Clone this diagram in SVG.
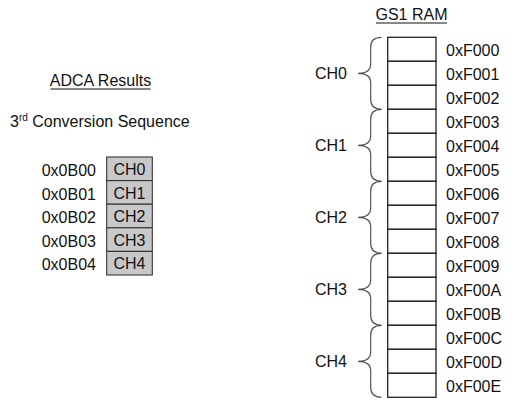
<svg xmlns="http://www.w3.org/2000/svg" width="516" height="412" viewBox="0 0 516 412">
<style>
text{font-family:"Liberation Sans",Arial,sans-serif;font-size:16px;fill:#111}
.ram{fill:#fff;stroke:#222;stroke-width:1.3}
.adc{fill:#c8c8c8;stroke:#333;stroke-width:1.1}
.br{fill:none;stroke:#555;stroke-width:1.2}
.ul{stroke:#111;stroke-width:1.2}
.c{text-anchor:middle}
</style>
<rect width="516" height="412" fill="#fff"/>
<g id="title-adca">
<text x="100.5" y="86" class="c">ADCA Results</text>
<line class="ul" x1="50.5" y1="89" x2="150.5" y2="89"/>
</g>
<g id="title-seq">
<text x="10" y="127">3<tspan font-size="10" dy="-6">rd</tspan><tspan dy="6"> Conversion Sequence</tspan></text>
</g>
<g id="adca-table">
<rect class="adc" x="106.7" y="157" width="45.6" height="23.6"/>
<rect class="adc" x="106.7" y="180.6" width="45.6" height="23.6"/>
<rect class="adc" x="106.7" y="204.2" width="45.6" height="23.6"/>
<rect class="adc" x="106.7" y="227.8" width="45.6" height="23.6"/>
<rect class="adc" x="106.7" y="251.4" width="45.6" height="23.6"/>
<text x="129.5" y="175" class="c">CH0</text>
<text x="129.5" y="198.6" class="c">CH1</text>
<text x="129.5" y="222.2" class="c">CH2</text>
<text x="129.5" y="245.8" class="c">CH3</text>
<text x="129.5" y="269.4" class="c">CH4</text>
<text x="41.7" y="176">0x0B00</text>
<text x="41.7" y="199.6">0x0B01</text>
<text x="41.7" y="223.2">0x0B02</text>
<text x="41.7" y="246.8">0x0B03</text>
<text x="41.7" y="270.4">0x0B04</text>
</g>
<g id="title-ram">
<text x="411.5" y="20" class="c">GS1 RAM</text>
<line class="ul" x1="376" y1="23" x2="447" y2="23"/>
</g>
<g id="ram-table">
<rect class="ram" x="387.7" y="37.3" width="48.3" height="24"/>
<rect class="ram" x="387.7" y="61.3" width="48.3" height="24"/>
<rect class="ram" x="387.7" y="85.3" width="48.3" height="24"/>
<rect class="ram" x="387.7" y="109.3" width="48.3" height="24"/>
<rect class="ram" x="387.7" y="133.3" width="48.3" height="24"/>
<rect class="ram" x="387.7" y="157.3" width="48.3" height="24"/>
<rect class="ram" x="387.7" y="181.3" width="48.3" height="24"/>
<rect class="ram" x="387.7" y="205.3" width="48.3" height="24"/>
<rect class="ram" x="387.7" y="229.3" width="48.3" height="24"/>
<rect class="ram" x="387.7" y="253.3" width="48.3" height="24"/>
<rect class="ram" x="387.7" y="277.3" width="48.3" height="24"/>
<rect class="ram" x="387.7" y="301.3" width="48.3" height="24"/>
<rect class="ram" x="387.7" y="325.3" width="48.3" height="24"/>
<rect class="ram" x="387.7" y="349.3" width="48.3" height="24"/>
<rect class="ram" x="387.7" y="373.3" width="48.3" height="24"/>
<text x="446" y="55.5">0xF000</text>
<text x="446" y="79.5">0xF001</text>
<text x="446" y="103.5">0xF002</text>
<text x="446" y="127.5">0xF003</text>
<text x="446" y="151.5">0xF004</text>
<text x="446" y="175.5">0xF005</text>
<text x="446" y="199.5">0xF006</text>
<text x="446" y="223.5">0xF007</text>
<text x="446" y="247.5">0xF008</text>
<text x="446" y="271.5">0xF009</text>
<text x="446" y="295.5">0xF00A</text>
<text x="446" y="319.5">0xF00B</text>
<text x="446" y="343.5">0xF00C</text>
<text x="446" y="367.5">0xF00D</text>
<text x="446" y="391.5">0xF00E</text>
</g>
<g id="connectors">
<path class="br" id="brace-ch0" d="M381.5,37.3 Q370.7,37.3 370.7,47 L370.7,64 Q370.7,73.3 358,73.3 Q370.7,73.3 370.7,82.6 L370.7,99.6 Q370.7,109.3 381.5,109.3"/>
<path class="br" id="brace-ch1" transform="translate(0,72)" d="M381.5,37.3 Q370.7,37.3 370.7,47 L370.7,64 Q370.7,73.3 358,73.3 Q370.7,73.3 370.7,82.6 L370.7,99.6 Q370.7,109.3 381.5,109.3"/>
<path class="br" id="brace-ch2" transform="translate(0,144)" d="M381.5,37.3 Q370.7,37.3 370.7,47 L370.7,64 Q370.7,73.3 358,73.3 Q370.7,73.3 370.7,82.6 L370.7,99.6 Q370.7,109.3 381.5,109.3"/>
<path class="br" id="brace-ch3" transform="translate(0,216)" d="M381.5,37.3 Q370.7,37.3 370.7,47 L370.7,64 Q370.7,73.3 358,73.3 Q370.7,73.3 370.7,82.6 L370.7,99.6 Q370.7,109.3 381.5,109.3"/>
<path class="br" id="brace-ch4" transform="translate(0,288)" d="M381.5,37.3 Q370.7,37.3 370.7,47 L370.7,64 Q370.7,73.3 358,73.3 Q370.7,73.3 370.7,82.6 L370.7,99.6 Q370.7,109.3 381.5,109.3"/>
</g>
<g id="ch-labels">
<text x="315" y="78.5">CH0</text>
<text x="315" y="150.5">CH1</text>
<text x="315" y="222.5">CH2</text>
<text x="315" y="294.5">CH3</text>
<text x="315" y="366.5">CH4</text>
</g>
</svg>
